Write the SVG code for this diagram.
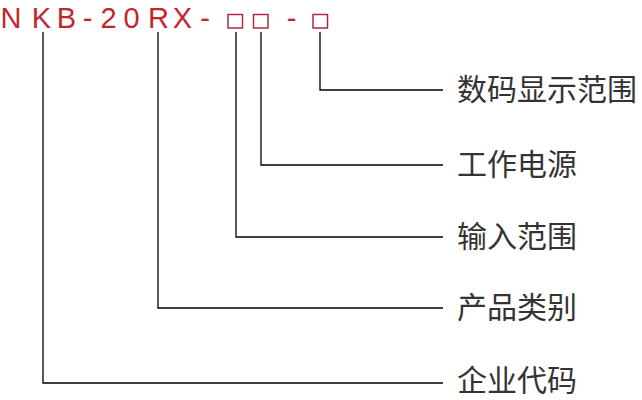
<svg xmlns="http://www.w3.org/2000/svg" width="642" height="400" viewBox="0 0 642 400">
<style>
.code{font-family:"Liberation Sans","DejaVu Sans",sans-serif;font-size:29px;fill:#c1272d;text-anchor:middle}
.box{fill:none;stroke:#b0283a;stroke-width:1.5}
.lbl{font-family:"Noto Sans CJK SC","Noto Sans",sans-serif;font-size:30px;fill:#333}
.ln{fill:none;stroke:#000;stroke-width:1.3}
</style>
<rect width="642" height="400" fill="#fff"/>
<g id="code">
<text class="code" x="11" y="28">N</text>
<text class="code" x="41.5" y="28">K</text>
<text class="code" x="66.5" y="28">B</text>
<text class="code" x="87.5" y="28">-</text>
<text class="code" x="108.5" y="28">2</text>
<text class="code" x="131.5" y="28">0</text>
<text class="code" x="158.5" y="28">R</text>
<text class="code" x="182.5" y="28">X</text>
<text class="code" x="205" y="28">-</text>
<text class="code" x="291.5" y="28">-</text>
<rect class="box" x="228" y="14.5" width="14.5" height="13.5"/>
<rect class="box" x="253.5" y="14.5" width="14.5" height="13.5"/>
<rect class="box" x="313" y="14.5" width="14.5" height="13.5"/>
</g>
<g id="connectors">
<polyline class="ln" points="320,32 320,90 443,90"/>
<polyline class="ln" points="261,32 261,165 443,165"/>
<polyline class="ln" points="236,32 236,237 443,237"/>
<polyline class="ln" points="158,32 158,308 443,308"/>
<polyline class="ln" points="43,32 43,383 443,383"/>
</g>
<g id="n1"><text class="lbl" x="457" y="100">数码显示范围</text></g>
<g id="n2"><text class="lbl" x="457" y="175">工作电源</text></g>
<g id="n3"><text class="lbl" x="457" y="247">输入范围</text></g>
<g id="n4"><text class="lbl" x="457" y="318">产品类别</text></g>
<g id="n5"><text class="lbl" x="457" y="391">企业代码</text></g>
</svg>
